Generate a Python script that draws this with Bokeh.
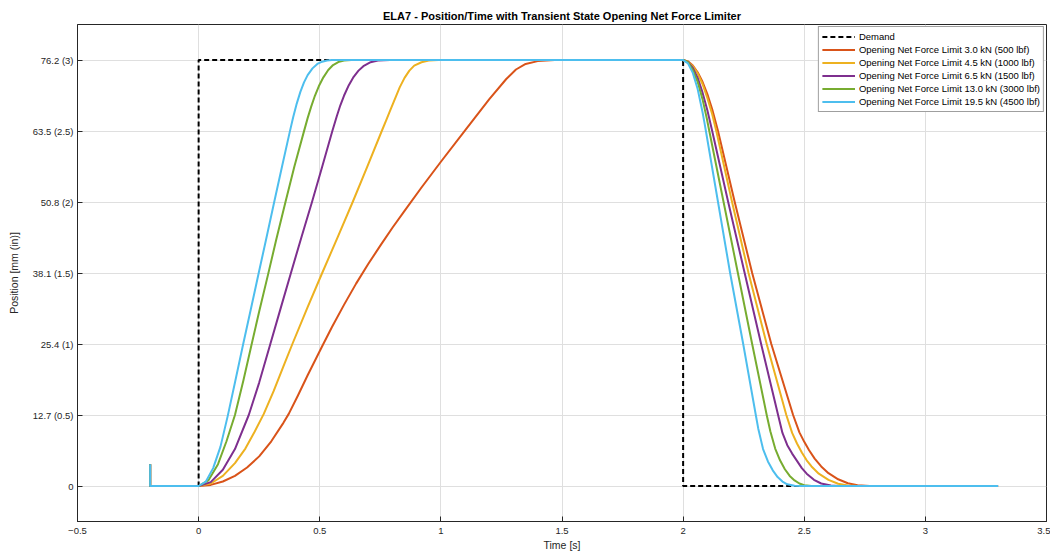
from bokeh.plotting import figure
from bokeh.models import FixedTicker, Range1d
from bokeh.embed import file_html
from bokeh.resources import INLINE

# ---------------- data ----------------
x_ticks = [-0.5, 0, 0.5, 1, 1.5, 2, 2.5, 3, 3.5]
y_ticks = [0, 12.7, 25.4, 38.1, 50.8, 63.5, 76.2]
y_tick_labels = ["0", "12.7 (0.5)", "25.4 (1)", "38.1 (1.5)", "50.8 (2)", "63.5 (2.5)", "76.2 (3)"]

series_names = [
    "Opening Net Force Limit 3.0 kN (500 lbf)",
    "Opening Net Force Limit 4.5 kN (1000 lbf)",
    "Opening Net Force Limit 6.5 kN (1500 lbf)",
    "Opening Net Force Limit 13.0 kN (3000 lbf)",
    "Opening Net Force Limit 19.5 kN (4500 lbf)",
]
series_colors = ["#D95319", "#EDB120", "#7E2F8E", "#77AC30", "#4DBEEE"]

time_demand = [-0.2, 0.0, 0.0, 2.0, 2.0, 3.3]
pos_demand = [0.0, 0.0, 76.2, 76.2, 0.0, 0.0]

time_3_0kN = [-0.2, -0.2, 0.0, 0.05, 0.1, 0.15, 0.2, 0.25, 0.3, 0.35, 0.372, 0.41, 0.45, 0.51,
              0.55, 0.6, 0.65, 0.7, 0.75, 0.8, 0.85, 0.92, 1.0, 1.1, 1.2, 1.27, 1.31, 1.35, 1.4, 1.47,
              2.0, 2.02, 2.04, 2.06, 2.08, 2.1, 2.12, 2.144, 2.213, 2.285, 2.364, 2.454, 2.48, 2.5,
              2.52, 2.543, 2.57, 2.6, 2.64, 2.68, 2.72, 2.77, 3.3]
pos_3_0kN = [3.9, 0.0, 0.0, 0.2, 0.8, 1.8, 3.3, 5.3, 8.0, 11.3, 12.9, 16.2, 19.8, 25.0,
             28.4, 32.4, 36.2, 39.7, 43.0, 46.2, 49.2, 53.4, 58.0, 63.6, 69.2, 72.8, 74.5, 75.5, 76.0, 76.2,
             76.2, 75.96, 75.2, 74.0, 72.3, 70.1, 67.4, 63.5, 50.8, 38.1, 25.4, 12.7, 9.6, 7.9,
             6.4, 4.9, 3.5, 2.3, 1.2, 0.5, 0.15, 0.0, 0.0]

time_4_5kN = [-0.2, -0.2, 0.0, 0.05, 0.1, 0.15, 0.193, 0.23, 0.269, 0.31, 0.35, 0.387, 0.45, 0.51,
              0.575, 0.636, 0.695, 0.756, 0.775, 0.79, 0.81, 0.83, 0.85, 0.87, 0.89, 0.92, 0.95, 0.99,
              2.0, 2.02, 2.04, 2.06, 2.08, 2.1, 2.12, 2.137, 2.202, 2.27, 2.345, 2.426, 2.45, 2.47,
              2.49, 2.51, 2.53, 2.56, 2.6, 2.64, 2.68, 2.72, 3.3]
pos_4_5kN = [3.9, 0.0, 0.0, 0.45, 1.8, 4.1, 6.7, 9.6, 12.9, 17.0, 21.4, 25.4, 32.0, 38.1,
             44.6, 50.8, 57.0, 63.5, 65.5, 67.1, 69.2, 71.3, 73.0, 74.3, 75.2, 75.8, 76.1, 76.2,
             76.2, 75.9, 75.1, 73.8, 71.9, 69.4, 66.5, 63.5, 50.8, 38.1, 25.4, 12.7, 9.5, 7.6,
             6.0, 4.6, 3.5, 2.2, 1.1, 0.4, 0.1, 0.0, 0.0]

time_6_5kN = [-0.2, -0.2, 0.0, 0.05, 0.1, 0.15, 0.207, 0.25, 0.296, 0.34, 0.381, 0.425, 0.468,
              0.51, 0.552, 0.57, 0.585, 0.6, 0.62, 0.64, 0.66, 0.68, 0.71, 0.74, 0.79,
              2.0, 2.02, 2.04, 2.06, 2.08, 2.1, 2.12, 2.186, 2.254, 2.322, 2.392, 2.41, 2.43,
              2.45, 2.47, 2.49, 2.51, 2.54, 2.57, 2.61, 2.64, 3.3]
pos_6_5kN = [3.9, 0.0, 0.0, 0.7, 2.9, 6.6, 12.7, 18.5, 25.4, 32.0, 38.1, 44.6, 50.8,
             57.1, 63.5, 66.1, 68.1, 69.8, 71.7, 73.2, 74.3, 75.1, 75.8, 76.1, 76.2,
             76.2, 75.8, 74.8, 73.0, 70.4, 67.2, 63.5, 50.8, 38.1, 25.4, 12.7, 9.5, 7.3,
             5.8, 4.5, 3.2, 2.2, 1.1, 0.45, 0.1, 0.0, 0.0]

time_13_0kN = [-0.2, -0.2, 0.0, 0.04, 0.08, 0.115, 0.15, 0.185, 0.217, 0.25, 0.287, 0.32, 0.358,
               0.395, 0.434, 0.45, 0.465, 0.48, 0.496, 0.515, 0.535, 0.555, 0.58, 0.6, 0.63,
               2.0, 2.02, 2.04, 2.06, 2.08, 2.098, 2.108, 2.167, 2.226, 2.285, 2.345, 2.36,
               2.38, 2.4, 2.42, 2.44, 2.46, 2.48, 2.5, 2.53, 3.3]
pos_13_0kN = [3.9, 0.0, 0.0, 1.0, 3.9, 8.0, 12.7, 18.9, 25.0, 31.2, 37.9, 44.0, 50.7,
              57.1, 63.3, 65.8, 67.9, 69.8, 71.5, 73.1, 74.4, 75.3, 75.9, 76.1, 76.2,
              76.2, 75.8, 74.4, 72.3, 69.2, 65.7, 63.5, 50.8, 38.1, 25.4, 12.7, 9.8,
              6.7, 4.6, 3.0, 1.8, 1.0, 0.45, 0.15, 0.0, 0.0]

time_19_5kN = [-0.2, -0.2, 0.0, 0.03, 0.06, 0.09, 0.12, 0.15, 0.184, 0.22, 0.248, 0.28, 0.312,
               0.345, 0.376, 0.39, 0.405, 0.42, 0.435, 0.45, 0.47, 0.49, 0.51, 0.53, 0.55,
               2.0, 2.02, 2.04, 2.06, 2.08, 2.088, 2.094, 2.144, 2.194, 2.248, 2.3, 2.31,
               2.33, 2.35, 2.37, 2.39, 2.41, 2.43, 2.46, 2.49, 3.3]
pos_19_5kN = [3.9, 0.0, 0.0, 0.8, 3.2, 7.0, 12.5, 18.5, 25.4, 32.5, 38.1, 44.4, 50.8,
              57.3, 63.3, 65.9, 68.4, 70.5, 72.2, 73.5, 74.7, 75.5, 75.9, 76.1, 76.2,
              76.2, 75.6, 73.9, 71.0, 66.9, 65.0, 63.5, 50.8, 38.1, 25.4, 12.7, 10.3,
              6.6, 4.4, 2.8, 1.6, 0.8, 0.3, 0.05, 0.0, 0.0]

series_time = [time_3_0kN, time_4_5kN, time_6_5kN, time_13_0kN, time_19_5kN]
series_pos = [pos_3_0kN, pos_4_5kN, pos_6_5kN, pos_13_0kN, pos_19_5kN]

# ---------------- figure ----------------
FONT = "Liberation Sans"
TXT = "#262626"

p = figure(width=1050, height=554, output_backend="svg", toolbar_location=None,
           x_range=Range1d(-0.5, 3.5), y_range=Range1d(-6.35, 82.55),
           x_axis_label="Time [s]", y_axis_label="Position [mm (in)]",
           title="ELA7 - Position/Time with Transient State Opening Net Force Limiter",
           min_border_left=77, min_border_right=4, min_border_top=24, min_border_bottom=33)

p.title.align = "center"
p.title.text_font = FONT
p.title.text_font_size = "11px"
p.title.text_font_style = "bold"
p.title.text_color = "#000000"
p.title.standoff = 6

p.xaxis.ticker = FixedTicker(ticks=x_ticks)
p.yaxis.ticker = FixedTicker(ticks=y_ticks)
p.yaxis.major_label_overrides = {t: l for t, l in zip(y_ticks, y_tick_labels)}

for ax in [p.xaxis[0], p.yaxis[0]]:
    ax.major_tick_in = 5
    ax.major_tick_out = 0
    ax.minor_tick_in = 0
    ax.minor_tick_out = 0
    ax.axis_line_color = TXT
    ax.major_tick_line_color = TXT
    ax.major_label_text_font = FONT
    ax.major_label_text_font_size = "9.5px"
    ax.major_label_text_color = TXT
    ax.axis_label_text_font = FONT
    ax.axis_label_text_font_size = "10.5px"
    ax.axis_label_text_font_style = "normal"
    ax.axis_label_text_color = TXT
p.xaxis.major_label_standoff = 6
p.xaxis.axis_label_standoff = 2
p.yaxis.major_label_standoff = 4
p.yaxis.axis_label_standoff = 10

p.xgrid.grid_line_color = "#DFDFDF"
p.ygrid.grid_line_color = "#DFDFDF"
p.xgrid.ticker = FixedTicker(ticks=x_ticks)
p.ygrid.ticker = FixedTicker(ticks=y_ticks)
p.outline_line_color = TXT
p.background_fill_color = "white"
p.border_fill_color = "white"

p.line(time_demand, pos_demand, line_color="black", line_width=2, line_dash="5 3",
       legend_label="Demand")
for name, col, tt, pp in zip(series_names, series_colors, series_time, series_pos):
    p.line(tt, pp, line_color=col, line_width=2, legend_label=name, line_join="round")

lg = p.legend[0]
lg.location = "top_right"
lg.margin = 2
lg.padding = 3
lg.spacing = 0
lg.label_text_font = FONT
lg.label_text_font_size = "9.5px"
lg.label_text_color = "#000000"
lg.label_height = 13
lg.glyph_height = 13
lg.glyph_width = 33
lg.label_standoff = 4
lg.border_line_color = "#404040"
lg.border_line_width = 1
lg.background_fill_color = "white"
lg.background_fill_alpha = 1.0

open("out.html", "w").write(file_html(p, INLINE))
